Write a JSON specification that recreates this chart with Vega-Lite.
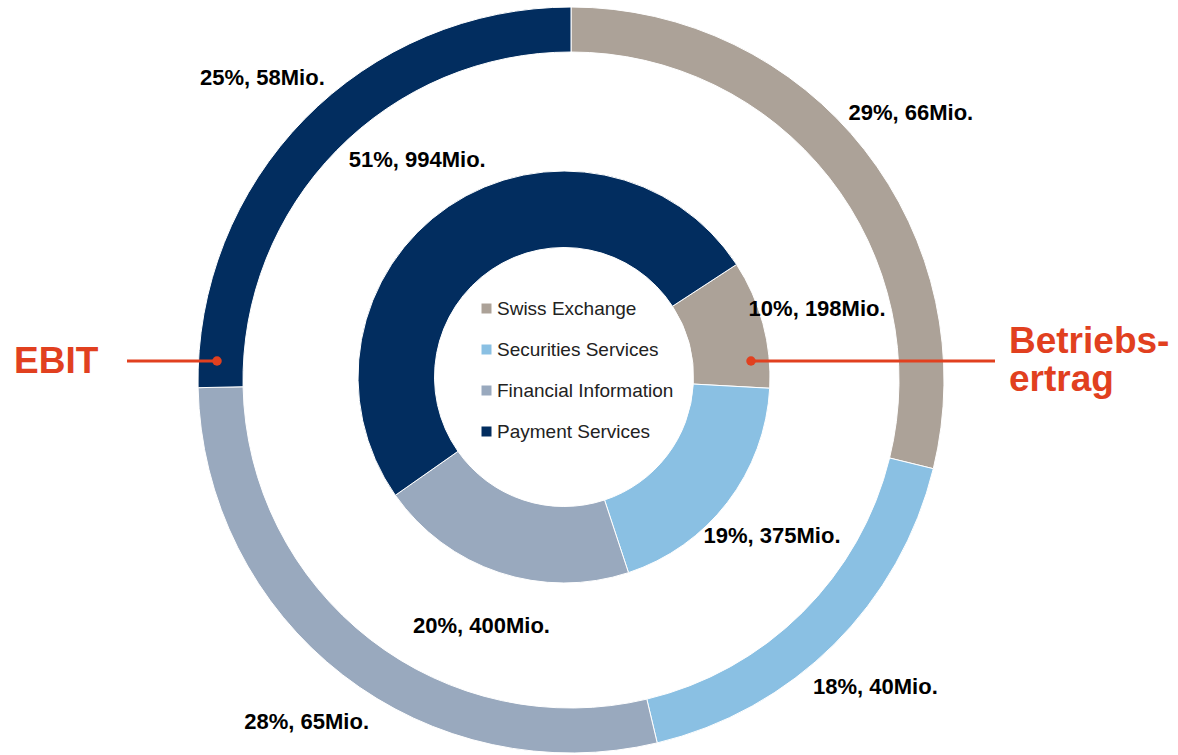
{
  "$schema": "https://vega.github.io/schema/vega-lite/v6.json",
  "width": 1178,
  "height": 755,
  "padding": 0,
  "autosize": {"type": "none"},
  "background": "white",
  "config": {"view": {"stroke": null}, "font": "Liberation Sans"},
  "datasets": {
    "ebit": [
      {"segment": "Swiss Exchange", "value": 66, "label": "29%, 66Mio.", "ord": 1},
      {"segment": "Securities Services", "value": 40, "label": "18%, 40Mio.", "ord": 2},
      {"segment": "Financial Information", "value": 65, "label": "28%, 65Mio.", "ord": 3},
      {"segment": "Payment Services", "value": 58, "label": "25%, 58Mio.", "ord": 4}
    ],
    "ertrag": [
      {"segment": "Swiss Exchange", "value": 198, "label": "10%, 198Mio.", "ord": 1},
      {"segment": "Securities Services", "value": 375, "label": "19%, 375Mio.", "ord": 2},
      {"segment": "Financial Information", "value": 400, "label": "20%, 400Mio.", "ord": 3},
      {"segment": "Payment Services", "value": 994, "label": "51%, 994Mio.", "ord": 4}
    ],
    "lines": [
      {"x": 127, "x2": 217, "y": 361},
      {"x": 751, "x2": 995, "y": 361}
    ],
    "dots": [
      {"x": 217, "y": 361},
      {"x": 751, "y": 361}
    ],
    "titles": [
      {"t": "EBIT", "x": 14, "y": 373},
      {"t": "Betriebs-", "x": 1009, "y": 353},
      {"t": "ertrag", "x": 1009, "y": 391}
    ]
  },
  "layer": [
    {
      "data": {"name": "ebit"},
      "layer": [
        {
          "mark": {"type": "arc", "outerRadius": 373, "innerRadius": 328, "stroke": "white", "strokeWidth": 1},
          "encoding": {
            "x": {"datum": 571, "type": "quantitative", "scale": {"domain": [0, 1178], "nice": false, "zero": false}, "axis": null},
            "y": {"datum": 380, "type": "quantitative", "scale": {"domain": [0, 755], "reverse": true, "nice": false, "zero": false}, "axis": null},
            "theta": {"field": "value", "type": "quantitative", "stack": true},
            "order": {"field": "ord", "type": "quantitative"},
            "color": {
              "field": "segment",
              "type": "nominal",
              "scale": {
                "domain": ["Swiss Exchange", "Securities Services", "Financial Information", "Payment Services"],
                "range": ["#ACA298", "#8AC0E3", "#99A9BE", "#022D5F"]
              },
              "legend": {
                "title": null,
                "orient": "none",
                "legendX": 477,
                "legendY": 299,
                "symbolType": "square",
                "symbolSize": 100,
                "symbolStrokeWidth": 0,
                "labelFontSize": 19,
                "labelFont": "Liberation Sans",
                "labelColor": "#222222",
                "labelLimit": 400,
                "rowPadding": 21,
                "labelOffset": 1,
                "padding": 0
              }
            }
          }
        },
        {
          "mark": {"type": "text", "radius": 432, "font": "Liberation Sans", "fontWeight": "bold", "fontSize": 22, "color": "#000000", "baseline": "middle", "align": "center"},
          "encoding": {
            "x": {"datum": 571, "type": "quantitative"},
            "y": {"datum": 380, "type": "quantitative"},
            "theta": {"field": "value", "type": "quantitative", "stack": true},
            "order": {"field": "ord", "type": "quantitative"},
            "text": {"field": "label", "type": "nominal"}
          }
        }
      ]
    },
    {
      "data": {"name": "ertrag"},
      "layer": [
        {
          "mark": {"type": "arc", "outerRadius": 206, "innerRadius": 129.5, "stroke": "white", "strokeWidth": 1},
          "encoding": {
            "x": {"datum": 564, "type": "quantitative"},
            "y": {"datum": 377, "type": "quantitative"},
            "theta": {"field": "value", "type": "quantitative", "stack": true, "scale": {"range": [0.993, 7.276]}},
            "order": {"field": "ord", "type": "quantitative"},
            "color": {"field": "segment", "type": "nominal"}
          }
        },
        {
          "mark": {"type": "text", "radius": 262, "font": "Liberation Sans", "fontWeight": "bold", "fontSize": 22, "color": "#000000", "baseline": "middle", "align": "center"},
          "encoding": {
            "x": {"datum": 564, "type": "quantitative"},
            "y": {"datum": 377, "type": "quantitative"},
            "theta": {"field": "value", "type": "quantitative", "stack": true, "scale": {"range": [0.993, 7.276]}},
            "order": {"field": "ord", "type": "quantitative"},
            "text": {"field": "label", "type": "nominal"}
          }
        }
      ]
    },
    {
      "data": {"name": "lines"},
      "mark": {"type": "rule", "color": "#E1401F", "strokeWidth": 3},
      "encoding": {
        "x": {"field": "x", "type": "quantitative"},
        "x2": {"field": "x2"},
        "y": {"field": "y", "type": "quantitative"}
      }
    },
    {
      "data": {"name": "dots"},
      "mark": {"type": "point", "filled": true, "color": "#E1401F", "size": 90, "opacity": 1},
      "encoding": {
        "x": {"field": "x", "type": "quantitative"},
        "y": {"field": "y", "type": "quantitative"}
      }
    },
    {
      "data": {"name": "titles"},
      "mark": {"type": "text", "font": "Liberation Sans", "fontWeight": "bold", "fontSize": 37, "color": "#E1401F", "align": "left", "baseline": "alphabetic"},
      "encoding": {
        "x": {"field": "x", "type": "quantitative"},
        "y": {"field": "y", "type": "quantitative"},
        "text": {"field": "t", "type": "nominal"}
      }
    }
  ],
  "resolve": {"scale": {"theta": "independent"}}
}
